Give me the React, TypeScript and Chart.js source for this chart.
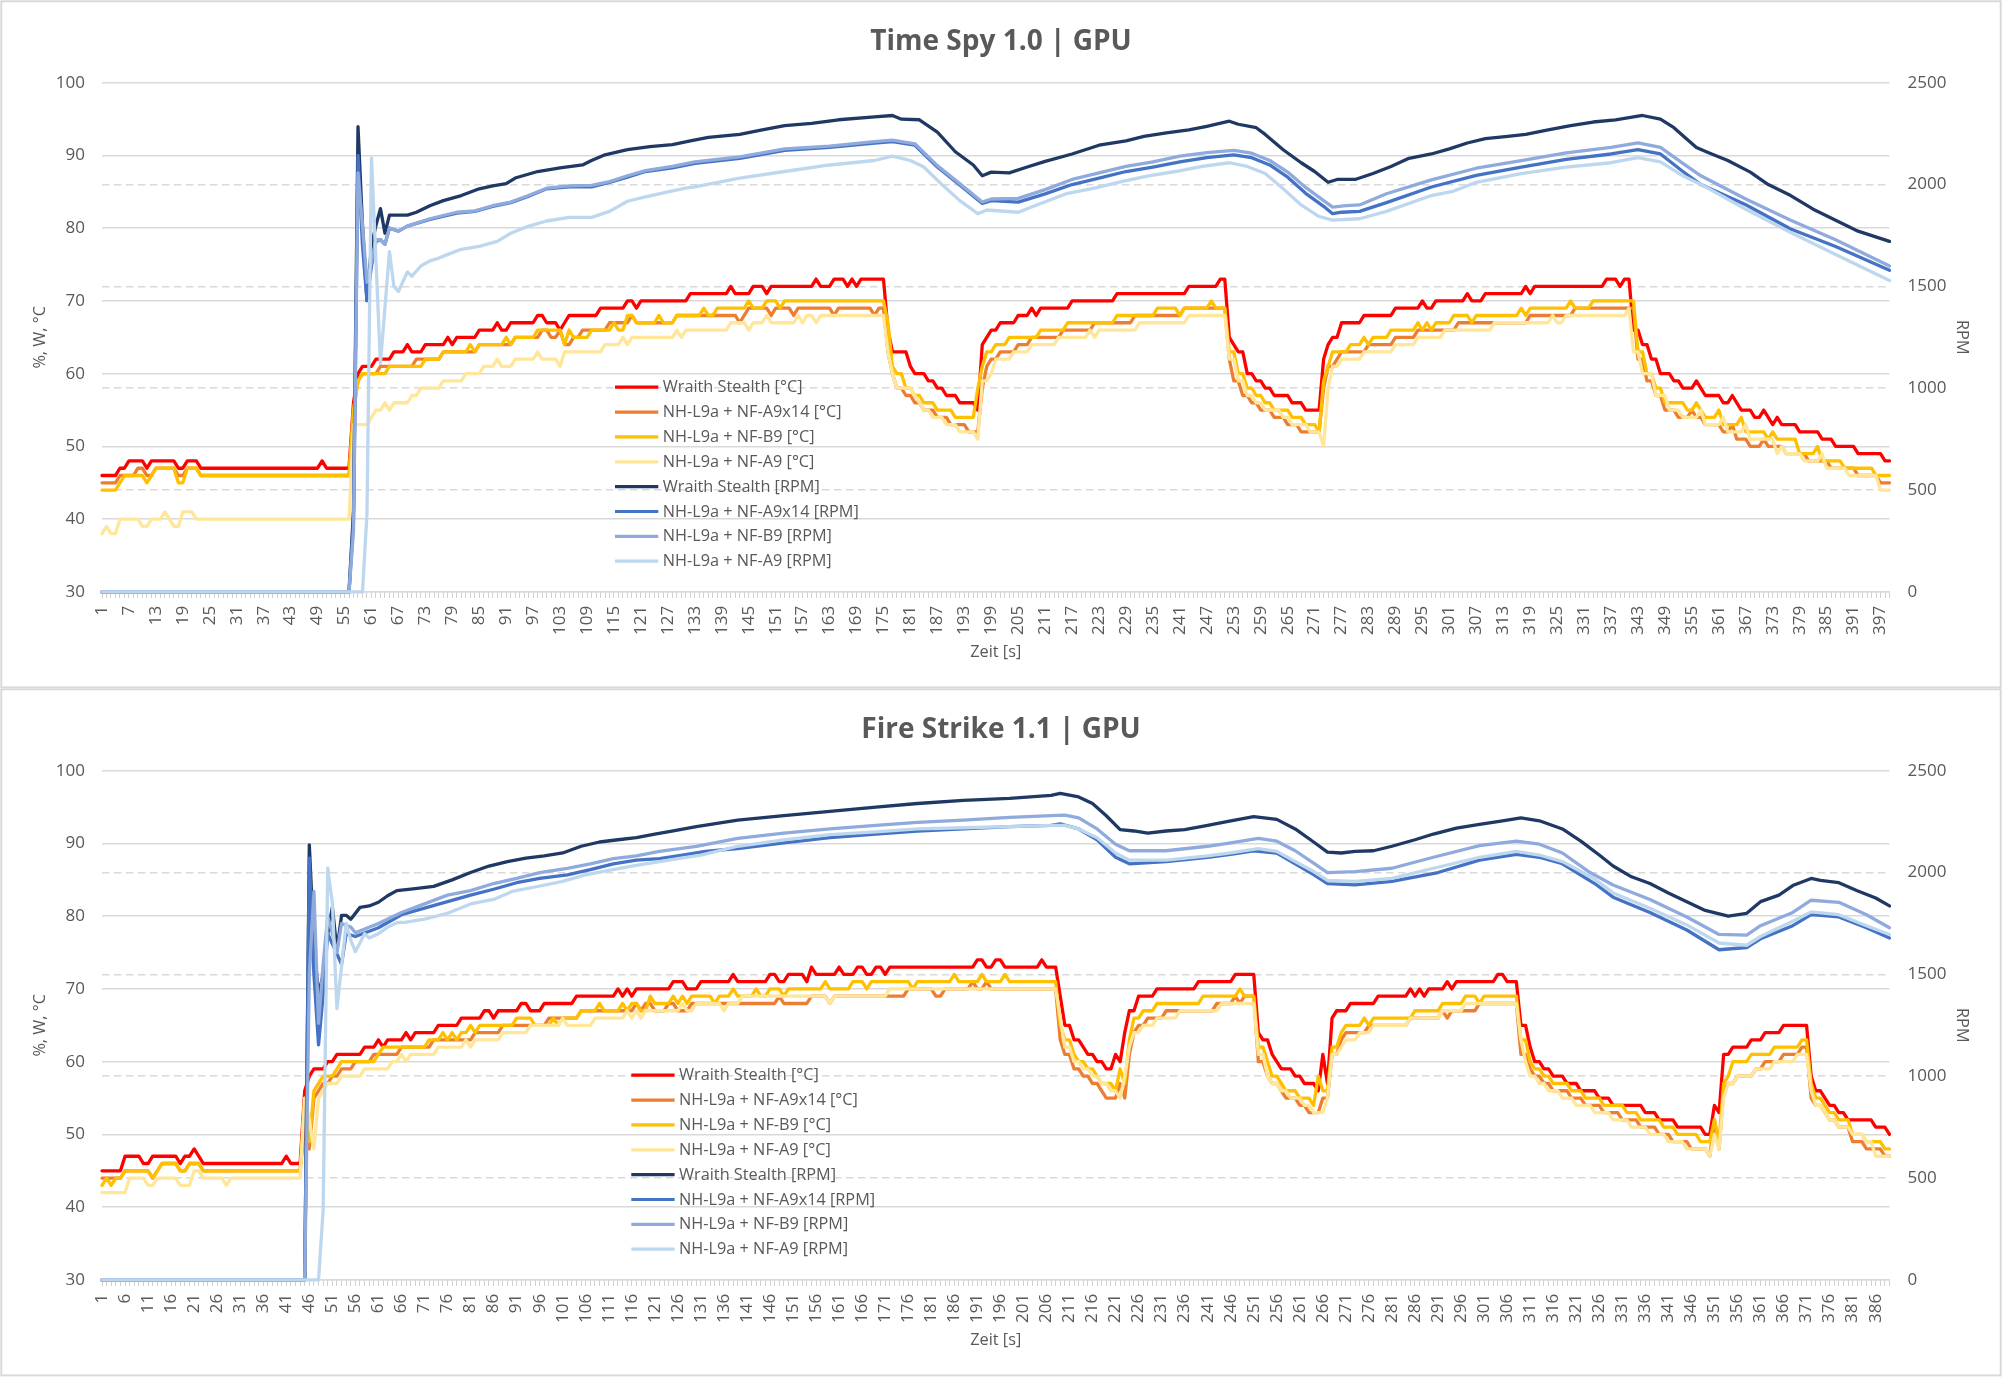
import React, { useEffect, useRef } from 'react';
import { Chart, registerables } from 'chart.js';

Chart.register(...registerables);

const FONT = '"Open Sans", "Noto Sans", "DejaVu Sans", sans-serif';
const TEXT = '#595959';
const GRID = '#d9d9d9';

const seriesNames = [
  'Wraith Stealth [°C]',
  'NH-L9a + NF-A9x14 [°C]',
  'NH-L9a + NF-B9 [°C]',
  'NH-L9a + NF-A9 [°C]',
  'Wraith Stealth [RPM]',
  'NH-L9a + NF-A9x14 [RPM]',
  'NH-L9a + NF-B9 [RPM]',
  'NH-L9a + NF-A9 [RPM]',
];
const seriesColors = ['#FF0000', '#ED7D31', '#FFC000', '#FFE699', '#203864', '#4472C4', '#8FAADC', '#BDD7EE'];

// ---------------- Time Spy 1.0 | GPU ----------------
const tsTitle = 'Time Spy 1.0 | GPU';
const tsSeconds = 399;
const tsLabelStep = 6;
// temperatures: [first second of plateau, °C]
const tsWraithTemp = [[1,46],[5,47],[7,48],[11,47],[12,48],[18,47],[20,48],[23,47],[50,48],[51,47],[57,56],[58,60],[59,61],[62,62],[66,63],[69,64],[70,63],[73,64],[78,65],[79,64],[80,65],[85,66],[89,67],[90,66],[92,67],[98,68],[100,67],[103,66],[104,67],[105,68],[112,69],[118,70],[120,69],[121,70],[132,71],[141,72],[142,71],[146,72],[149,71],[150,72],[160,73],[161,72],[164,73],[167,72],[168,73],[169,72],[170,73],[176,66],[177,63],[181,61],[182,60],[185,59],[187,58],[189,57],[192,56],[196,55],[197,64],[198,65],[199,66],[201,67],[205,68],[208,69],[209,68],[210,69],[217,70],[227,71],[243,72],[250,73],[252,65],[253,64],[254,63],[256,60],[258,59],[260,58],[262,57],[266,56],[269,55],[273,62],[274,64],[275,65],[277,67],[282,68],[289,69],[295,70],[296,69],[298,70],[305,71],[306,70],[309,71],[318,72],[319,71],[320,72],[336,73],[339,72],[340,73],[342,66],[344,64],[346,62],[348,60],[351,59],[353,58],[356,59],[357,58],[358,57],[362,56],[364,57],[365,56],[366,55],[369,54],[371,55],[372,54],[373,53],[374,54],[375,53],[379,52],[384,51],[387,50],[392,49],[398,48]];
const tsA9x14Temp = [[1,45],[5,46],[9,47],[11,46],[13,47],[18,46],[20,47],[23,46],[57,55],[58,59],[59,60],[63,61],[71,62],[77,63],[85,64],[93,65],[99,66],[101,65],[103,66],[104,64],[106,65],[108,66],[114,67],[119,68],[120,67],[129,68],[143,67],[144,68],[145,69],[150,68],[151,69],[155,68],[156,69],[164,68],[165,69],[173,68],[174,69],[176,63],[177,60],[178,58],[180,57],[182,56],[184,55],[187,54],[190,53],[194,52],[197,58],[198,61],[199,62],[201,63],[205,64],[208,65],[215,66],[222,67],[231,68],[242,69],[252,62],[253,59],[255,57],[257,56],[259,55],[262,54],[265,53],[268,52],[273,58],[274,61],[276,62],[277,63],[283,64],[289,65],[294,66],[303,67],[319,68],[329,69],[343,62],[345,59],[347,57],[349,55],[352,54],[355,55],[356,54],[358,53],[362,52],[364,53],[365,51],[368,50],[371,51],[372,50],[376,49],[381,48],[386,47],[392,46],[397,45]];
const tsB9Temp = [[1,44],[5,45],[6,46],[11,45],[12,46],[13,47],[18,45],[20,47],[23,46],[57,55],[58,59],[59,60],[65,61],[73,62],[77,63],[83,64],[84,63],[85,64],[91,65],[92,64],[93,65],[98,66],[104,64],[105,66],[106,65],[110,66],[115,67],[116,66],[118,68],[120,67],[125,68],[126,67],[129,68],[135,69],[136,68],[138,69],[145,70],[146,69],[149,70],[152,69],[153,70],[176,67],[177,61],[178,60],[180,58],[182,57],[184,56],[187,55],[191,54],[196,58],[197,61],[198,63],[200,64],[203,65],[210,66],[216,67],[227,68],[236,69],[241,68],[242,69],[248,70],[249,69],[252,63],[254,60],[256,58],[258,57],[260,56],[262,55],[266,54],[269,53],[272,52],[273,59],[274,61],[275,63],[279,64],[282,65],[283,64],[284,65],[288,66],[294,67],[295,66],[296,67],[297,66],[298,67],[302,68],[306,67],[307,68],[317,69],[318,68],[319,69],[328,70],[329,69],[333,70],[343,63],[345,60],[347,58],[349,56],[354,55],[356,56],[357,55],[358,54],[361,55],[362,53],[366,54],[367,52],[372,51],[373,52],[374,51],[379,49],[383,50],[384,48],[389,47],[396,46]];
const tsA9Temp = [[1,38],[2,39],[3,38],[5,40],[10,39],[12,40],[15,41],[16,40],[17,39],[19,41],[22,40],[57,53],[61,54],[62,55],[64,56],[65,55],[66,56],[70,57],[72,58],[77,59],[82,60],[86,61],[89,62],[90,61],[93,62],[98,63],[99,62],[103,61],[104,63],[113,64],[117,65],[118,64],[119,65],[129,66],[130,65],[131,66],[141,67],[145,66],[146,67],[149,68],[150,67],[156,68],[157,67],[158,68],[160,67],[161,68],[176,63],[177,60],[178,58],[182,57],[183,56],[184,55],[186,54],[189,53],[192,52],[196,51],[197,59],[199,60],[200,62],[204,63],[208,64],[214,65],[221,66],[222,65],[223,66],[232,67],[243,68],[252,62],[254,59],[256,57],[258,56],[260,55],[264,54],[266,53],[270,52],[273,50],[274,58],[275,61],[277,62],[282,63],[289,64],[294,65],[300,66],[311,67],[324,68],[325,67],[327,68],[341,69],[342,63],[344,60],[347,57],[350,55],[353,54],[357,55],[358,53],[362,54],[363,52],[367,53],[368,51],[374,49],[375,50],[376,49],[380,48],[384,49],[385,47],[390,46],[397,44]];
// fan speeds: [second, RPM]
const tsWraithRpm = [[1,0],[56,0],[57,400],[58,2284],[59,1800],[60,1430],[61,1700],[62,1800],[63,1882],[64,1761],[65,1850],[69,1850],[71,1864],[74,1896],[77,1921],[81,1946],[85,1979],[88,1993],[91,2004],[93,2032],[98,2064],[103,2082],[108,2096],[110,2118],[113,2146],[118,2171],[123,2186],[128,2196],[132,2214],[136,2232],[143,2246],[148,2268],[153,2289],[159,2300],[165,2318],[173,2332],[177,2339],[179,2321],[183,2318],[187,2257],[191,2161],[195,2096],[197,2043],[199,2061],[203,2057],[207,2086],[211,2114],[217,2150],[223,2193],[229,2214],[233,2236],[238,2254],[243,2268],[247,2286],[252,2311],[254,2296],[258,2279],[260,2246],[264,2171],[268,2107],[271,2064],[274,2011],[276,2025],[280,2025],[284,2054],[288,2089],[292,2129],[297,2150],[301,2175],[305,2204],[309,2225],[314,2236],[318,2246],[323,2268],[328,2289],[333,2307],[338,2318],[344,2339],[348,2321],[351,2279],[356,2182],[359,2154],[363,2118],[368,2061],[372,2000],[377,1946],[382,1879],[387,1825],[392,1771],[399,1721]];
const tsA9x14Rpm = [[1,0],[56,0],[57,350],[58,2143],[59,1700],[60,1430],[61,1600],[62,1720],[63,1729],[64,1707],[65,1786],[67,1771],[69,1796],[74,1829],[80,1860],[84,1868],[88,1893],[92,1911],[96,1943],[100,1979],[105,1989],[110,1989],[114,2011],[118,2036],[122,2064],[128,2082],[133,2104],[143,2129],[153,2168],[163,2182],[173,2204],[177,2211],[182,2193],[187,2086],[193,1979],[197,1907],[199,1921],[205,1914],[211,1954],[217,2000],[223,2032],[229,2064],[235,2086],[241,2111],[247,2132],[253,2146],[257,2132],[261,2096],[265,2036],[269,1957],[273,1893],[275,1857],[277,1864],[281,1868],[287,1911],[297,1988],[307,2045],[317,2086],[327,2124],[337,2150],[343,2171],[348,2150],[353,2064],[357,2000],[367,1901],[377,1782],[387,1696],[399,1579]];
const tsB9Rpm = [[1,0],[56,0],[57,300],[58,2057],[59,1800],[60,1520],[61,1620],[62,1730],[63,1729],[64,1707],[65,1786],[67,1771],[69,1796],[74,1832],[80,1864],[84,1871],[88,1896],[92,1914],[96,1946],[100,1982],[105,1993],[110,1996],[114,2014],[118,2043],[122,2068],[128,2089],[133,2111],[143,2136],[153,2175],[163,2189],[173,2211],[177,2218],[182,2200],[187,2093],[193,1986],[197,1914],[199,1929],[205,1932],[211,1975],[217,2025],[223,2057],[229,2089],[235,2111],[241,2139],[247,2157],[253,2168],[257,2154],[261,2118],[265,2061],[269,1986],[273,1921],[275,1889],[278,1896],[281,1900],[287,1955],[297,2023],[307,2080],[317,2118],[327,2156],[337,2182],[343,2204],[348,2182],[353,2104],[357,2043],[367,1929],[377,1825],[387,1729],[399,1600]];
const tsA9Rpm = [[1,0],[59,0],[60,386],[61,2129],[63,1121],[65,1671],[66,1500],[67,1475],[69,1571],[70,1550],[72,1600],[74,1625],[76,1639],[78,1657],[81,1682],[85,1696],[89,1721],[92,1761],[96,1796],[100,1821],[105,1839],[110,1839],[114,1868],[118,1918],[122,1939],[127,1964],[131,1982],[133,1989],[143,2032],[153,2064],[163,2096],[173,2118],[177,2139],[181,2118],[184,2086],[188,2000],[192,1921],[196,1857],[198,1875],[205,1864],[210,1907],[216,1957],[222,1982],[228,2014],[234,2043],[240,2064],[246,2089],[252,2107],[256,2089],[260,2054],[264,1979],[268,1900],[272,1843],[275,1825],[281,1832],[287,1868],[297,1946],[302,1968],[307,2011],[317,2054],[327,2086],[337,2107],[343,2132],[348,2111],[353,2043],[358,1989],[367,1879],[377,1764],[387,1657],[399,1529]];

// ---------------- Fire Strike 1.1 | GPU ----------------
const fsTitle = 'Fire Strike 1.1 | GPU';
const fsSeconds = 389;
const fsLabelStep = 5;
const fsWraithTemp = [[1,45],[6,47],[10,46],[12,47],[18,46],[19,47],[21,48],[22,47],[23,46],[41,47],[42,46],[45,56],[46,58],[47,59],[50,60],[52,61],[58,62],[61,63],[62,62],[63,63],[67,64],[68,63],[69,64],[74,65],[79,66],[84,67],[86,66],[87,67],[92,68],[94,67],[97,68],[104,69],[113,70],[114,69],[115,70],[116,69],[117,70],[125,71],[128,70],[131,71],[138,72],[139,71],[146,72],[148,71],[150,72],[154,71],[155,73],[156,72],[161,73],[162,72],[165,73],[167,72],[169,73],[171,72],[172,73],[191,74],[193,73],[195,74],[197,73],[205,74],[206,73],[209,69],[210,65],[212,63],[214,62],[215,61],[217,60],[219,59],[221,61],[222,60],[223,64],[224,67],[226,69],[230,70],[239,71],[247,72],[252,64],[253,63],[255,61],[256,60],[257,59],[260,58],[262,57],[265,56],[266,61],[267,57],[268,66],[269,67],[272,68],[278,69],[285,70],[286,69],[287,70],[288,69],[289,70],[293,71],[294,70],[295,71],[304,72],[306,71],[309,65],[311,62],[312,60],[314,59],[316,58],[319,57],[322,56],[326,55],[329,54],[336,53],[339,52],[343,51],[349,50],[351,54],[352,53],[353,61],[355,62],[359,63],[362,64],[366,65],[372,58],[373,56],[375,55],[376,54],[378,53],[380,52],[386,51],[389,50]];
const fsA9x14Temp = [[1,44],[6,45],[12,44],[13,45],[14,46],[18,45],[20,46],[23,45],[45,51],[46,48],[47,55],[48,56],[49,57],[51,58],[53,59],[56,60],[60,61],[66,62],[73,63],[82,64],[88,65],[98,66],[105,67],[117,68],[118,67],[119,68],[121,67],[124,68],[126,67],[129,68],[148,69],[149,68],[155,69],[159,68],[160,69],[176,70],[182,69],[184,70],[190,71],[191,70],[193,71],[194,70],[209,63],[210,61],[212,59],[214,58],[216,57],[218,56],[219,55],[222,57],[223,55],[224,61],[225,64],[226,65],[228,66],[232,67],[243,68],[247,69],[248,68],[249,69],[252,60],[254,58],[255,57],[257,56],[258,55],[261,54],[263,53],[266,55],[268,61],[270,63],[271,64],[276,65],[285,66],[292,67],[293,66],[294,67],[300,68],[309,61],[311,59],[312,58],[314,57],[316,56],[320,55],[323,54],[327,53],[331,52],[335,51],[339,50],[342,49],[346,48],[350,47],[351,52],[352,48],[353,56],[354,57],[356,58],[360,59],[362,60],[366,61],[370,62],[372,55],[373,54],[375,53],[376,52],[378,51],[381,49],[384,48],[388,47]];
const fsB9Temp = [[1,43],[2,44],[3,43],[4,44],[6,45],[12,44],[13,45],[14,46],[18,45],[20,46],[23,45],[45,55],[46,49],[47,56],[48,57],[49,58],[52,59],[53,60],[61,61],[62,62],[72,63],[75,64],[76,63],[77,64],[78,63],[79,64],[81,65],[82,64],[83,65],[91,66],[95,65],[99,66],[100,65],[101,66],[105,67],[109,68],[110,67],[114,68],[115,67],[116,68],[118,67],[120,69],[121,68],[125,69],[126,68],[127,69],[128,68],[129,69],[134,68],[135,69],[138,70],[139,69],[143,70],[144,69],[146,70],[149,69],[150,70],[158,71],[159,70],[164,71],[167,70],[168,71],[177,70],[178,71],[186,72],[187,71],[192,72],[193,71],[197,72],[198,71],[209,65],[210,63],[212,61],[213,60],[215,59],[217,58],[218,57],[221,56],[222,59],[223,57],[224,63],[225,66],[227,67],[230,68],[240,69],[248,70],[249,69],[252,62],[254,60],[255,58],[257,57],[258,56],[261,55],[264,54],[265,58],[266,56],[268,62],[270,64],[271,65],[275,66],[276,65],[277,66],[286,67],[292,68],[297,69],[300,68],[301,69],[309,63],[311,60],[312,59],[314,58],[316,57],[320,56],[323,55],[327,54],[332,53],[335,52],[340,51],[343,50],[348,49],[351,52],[352,49],[353,57],[354,58],[355,60],[359,61],[364,62],[370,63],[372,57],[373,55],[375,54],[376,53],[378,52],[381,50],[384,49],[388,48]];
const fsA9Temp = [[1,42],[7,44],[11,43],[13,44],[18,43],[21,45],[23,44],[28,43],[29,44],[45,55],[46,52],[47,48],[48,55],[49,56],[50,57],[53,58],[58,59],[64,60],[66,61],[67,60],[68,61],[74,62],[80,63],[81,62],[82,63],[88,64],[94,65],[101,66],[102,65],[108,66],[115,67],[116,66],[117,67],[118,66],[119,67],[127,68],[128,67],[130,68],[136,67],[137,68],[140,69],[159,68],[160,69],[172,70],[209,66],[210,62],[212,60],[214,59],[216,58],[218,57],[220,56],[222,55],[223,58],[224,62],[225,64],[227,65],[230,66],[235,67],[244,68],[252,61],[254,58],[255,57],[257,56],[259,55],[262,54],[264,53],[267,55],[268,61],[270,62],[271,63],[274,64],[277,65],[285,66],[292,67],[297,68],[309,63],[310,60],[311,58],[313,57],[315,56],[318,55],[321,54],[325,53],[329,52],[333,51],[337,50],[341,49],[345,48],[350,47],[351,50],[352,48],[353,55],[354,57],[356,58],[360,59],[364,60],[369,61],[372,56],[373,54],[375,53],[376,52],[378,51],[381,50],[384,49],[386,47]];
const fsWraithRpm = [[1,0],[45,0],[46,2136],[47,1650],[48,1400],[49,1500],[50,1700],[51,1830],[52,1620],[53,1790],[54,1790],[55,1771],[57,1829],[59,1836],[61,1854],[63,1886],[65,1911],[69,1921],[73,1932],[77,1964],[81,2000],[85,2032],[89,2054],[93,2071],[97,2082],[101,2096],[105,2129],[109,2150],[113,2161],[117,2171],[121,2189],[125,2204],[130,2225],[139,2257],[149,2279],[159,2300],[169,2321],[178,2339],[188,2354],[198,2364],[207,2379],[209,2389],[213,2371],[216,2339],[219,2279],[222,2211],[225,2204],[228,2193],[232,2204],[236,2211],[241,2232],[246,2254],[251,2275],[256,2261],[260,2214],[264,2150],[267,2100],[270,2096],[273,2104],[277,2107],[281,2129],[286,2161],[290,2189],[295,2218],[300,2236],[305,2254],[309,2268],[313,2254],[318,2214],[322,2154],[326,2086],[329,2032],[333,1979],[337,1946],[341,1900],[345,1857],[349,1814],[354,1786],[358,1800],[361,1857],[365,1889],[368,1936],[372,1971],[374,1961],[378,1950],[382,1911],[386,1875],[389,1836]];
const fsA9x14Rpm = [[1,0],[45,0],[46,2071],[47,1500],[48,1154],[49,1400],[50,1700],[51,1650],[52,1600],[53,1550],[54,1700],[56,1686],[61,1729],[66,1793],[71,1825],[76,1857],[81,1889],[86,1918],[91,1950],[96,1971],[102,1989],[107,2014],[112,2043],[117,2061],[122,2068],[127,2086],[132,2104],[139,2118],[149,2146],[159,2171],[169,2189],[178,2204],[188,2214],[198,2225],[207,2232],[209,2239],[213,2214],[217,2161],[221,2075],[224,2043],[232,2054],[241,2075],[246,2089],[251,2107],[256,2096],[260,2043],[264,1990],[267,1946],[273,1939],[281,1957],[291,2000],[300,2061],[308,2089],[313,2075],[318,2043],[325,1946],[329,1879],[337,1804],[345,1718],[352,1621],[358,1632],[361,1675],[368,1739],[372,1793],[378,1782],[384,1729],[389,1679]];
const fsB9Rpm = [[1,0],[45,0],[46,1500],[47,1907],[48,1260],[49,1550],[50,1786],[51,1700],[52,1607],[53,1750],[55,1732],[56,1704],[61,1750],[66,1804],[71,1846],[76,1889],[81,1911],[86,1946],[91,1971],[96,2000],[102,2021],[107,2043],[112,2068],[117,2082],[122,2104],[130,2129],[139,2168],[149,2193],[159,2214],[169,2232],[178,2246],[188,2257],[198,2271],[207,2279],[210,2282],[213,2268],[217,2214],[221,2139],[224,2107],[232,2107],[241,2129],[246,2146],[252,2168],[256,2154],[260,2107],[264,2046],[267,2000],[273,2004],[281,2021],[290,2075],[300,2132],[308,2154],[313,2139],[318,2096],[324,2000],[329,1939],[337,1868],[345,1782],[352,1696],[358,1693],[361,1739],[368,1804],[372,1864],[378,1854],[384,1793],[389,1729]];
const fsA9Rpm = [[1,0],[48,0],[49,343],[50,2021],[51,1850],[52,1332],[54,1750],[55,1668],[56,1611],[58,1700],[59,1679],[61,1700],[63,1732],[65,1754],[67,1757],[71,1771],[76,1800],[81,1846],[86,1868],[90,1907],[95,1929],[101,1957],[106,1989],[111,2011],[116,2032],[121,2050],[126,2068],[131,2086],[139,2129],[149,2160],[159,2186],[169,2200],[178,2214],[188,2220],[198,2225],[207,2232],[210,2232],[213,2214],[217,2171],[221,2096],[224,2061],[232,2061],[241,2082],[246,2096],[252,2118],[256,2104],[260,2054],[264,2005],[267,1961],[273,1957],[281,1971],[290,2021],[300,2075],[308,2104],[313,2086],[318,2054],[325,1968],[329,1900],[337,1825],[345,1743],[352,1654],[358,1643],[361,1686],[368,1761],[372,1807],[378,1793],[384,1739],[389,1696]];

type Pair = number[];

function plateauPoints(runs: Pair[], last: number) {
  const pts: { x: number; y: number }[] = [];
  for (let k = 0; k < runs.length; k++) {
    const [s, v] = runs[k];
    const e = k + 1 < runs.length ? runs[k + 1][0] - 1 : last;
    pts.push({ x: s, y: v });
    if (e > s) pts.push({ x: e, y: v });
  }
  return pts;
}
function pairPoints(pairs: Pair[]) {
  return pairs.map(([x, y]) => ({ x, y }));
}

interface PanelSpec {
  title: string;
  seconds: number;
  labelStep: number;
  temps: Pair[][];
  rpms: Pair[][];
  legendX: number;
  height: number;
  xAxisHeight: number;
  xTitlePad: number;
}

const panels: PanelSpec[] = [
  { title: tsTitle, seconds: tsSeconds, labelStep: tsLabelStep, temps: [tsWraithTemp, tsA9x14Temp, tsB9Temp, tsA9Temp], rpms: [tsWraithRpm, tsA9x14Rpm, tsB9Rpm, tsA9Rpm], legendX: 615, height: 688, xAxisHeight: 96.1, xTitlePad: 26 },
  { title: fsTitle, seconds: fsSeconds, labelStep: fsLabelStep, temps: [fsWraithTemp, fsA9x14Temp, fsB9Temp, fsA9Temp], rpms: [fsWraithRpm, fsA9x14Rpm, fsB9Rpm, fsA9Rpm], legendX: 631.3, height: 690, xAxisHeight: 98.1, xTitlePad: 28 },
];

const panelPlugin = {
  id: 'panelFrame',
  beforeDraw(chart: any) {
    const { ctx, width } = chart;
    ctx.save();
    ctx.fillStyle = '#ffffff';
    ctx.fillRect(0, 0, width, chart.height);
    ctx.strokeStyle = GRID;
    ctx.lineWidth = 2;
    ctx.strokeRect(1.3, 1.3, width - 2.6, 686.1);
    ctx.restore();
  },
};

function legendPlugin(x0: number) {
  return {
    id: 'sideLegend',
    afterDraw(chart: any) {
      const ctx = chart.ctx;
      ctx.save();
      ctx.font = `16.3px ${FONT}`;
      ctx.textBaseline = 'middle';
      ctx.textAlign = 'left';
      seriesNames.forEach((name, i) => {
        const y = chart.chartArea.top + 304.5 + i * 24.86;
        ctx.strokeStyle = seriesColors[i];
        ctx.lineWidth = 3.2;
        ctx.lineCap = 'butt';
        ctx.beginPath();
        ctx.moveTo(x0, y);
        ctx.lineTo(x0 + 43.3, y);
        ctx.stroke();
        ctx.fillStyle = TEXT;
        ctx.fillText(name, x0 + 47.7, y + 0.5);
      });
      ctx.restore();
    },
  };
}

function buildConfig(p: PanelSpec): any {
  const labels = Array.from({ length: p.seconds }, (_, i) => i + 1);
  const datasets: any[] = [];
  p.temps.forEach((runs, i) => {
    datasets.push({
      label: seriesNames[i],
      data: plateauPoints(runs, p.seconds),
      borderColor: seriesColors[i],
      yAxisID: 'y',
      order: 8 - i,
    });
  });
  p.rpms.forEach((pairs, j) => {
    const i = j + 4;
    datasets.push({
      label: seriesNames[i],
      data: pairPoints(pairs),
      borderColor: seriesColors[i],
      yAxisID: 'y1',
      order: 8 - i,
    });
  });
  datasets.forEach((d) => {
    d.borderWidth = 3.3;
    d.pointRadius = 0;
    d.pointHoverRadius = 0;
    d.tension = 0;
    d.fill = false;
    d.borderJoinStyle = 'round';
    d.borderCapStyle = 'round';
    d.clip = 6;
  });
  const tickFont = { family: FONT, size: 17 };
  const titleFont = { family: FONT, size: 16.3 };
  return {
    type: 'line',
    data: { labels, datasets },
    options: {
      responsive: false,
      animation: false,
      devicePixelRatio: 1,
      events: [],
      layout: { padding: 0 },
      plugins: {
        legend: { display: false },
        tooltip: { enabled: false },
        title: {
          display: true,
          text: p.title,
          color: TEXT,
          font: { family: FONT, size: 28, weight: 'bold' },
          padding: { top: 25.3, bottom: 23.8 },
        },
      },
      scales: {
        x: {
          type: 'category',
          offset: false,
          grid: { display: true, drawOnChartArea: false, drawTicks: true, tickLength: 6, color: '#cfcfcf', lineWidth: 1, offset: false },
          border: { display: true, color: GRID, width: 1.5 },
          ticks: {
            autoSkip: false,
            minRotation: 90,
            maxRotation: 90,
            padding: 8,
            color: TEXT,
            font: tickFont,
            callback: (_v: any, index: number) => (index % p.labelStep === 0 ? String(labels[index]) : ''),
          },
          title: { display: true, text: 'Zeit [s]', color: TEXT, font: titleFont, padding: { top: 0, bottom: p.xTitlePad } },
          afterFit: (s: any) => { s.height = p.xAxisHeight; },
        },
        y: {
          type: 'linear',
          position: 'left',
          min: 30,
          max: 100,
          ticks: { stepSize: 10, padding: 17, color: TEXT, font: tickFont, callback: (v: any) => String(v) },
          grid: { color: GRID, lineWidth: 1.5, drawTicks: false },
          border: { display: false },
          title: { display: true, text: '%, W, °C', color: TEXT, font: titleFont, padding: { top: 30.4, bottom: 0 } },
          afterFit: (s: any) => { s.width = 102; },
        },
        y1: {
          type: 'linear',
          position: 'right',
          min: 0,
          max: 2500,
          ticks: { stepSize: 500, padding: 18, color: TEXT, font: tickFont, callback: (v: any) => String(v) },
          grid: {
            drawOnChartArea: true,
            drawTicks: false,
            lineWidth: 1.5,
            color: (c: any) => (c.tick && (c.tick.value === 0 || c.tick.value === 2500) ? 'rgba(0,0,0,0)' : GRID),
          },
          border: { display: false, dash: [7.5, 4.5] },
          title: { display: true, text: 'RPM', color: TEXT, font: titleFont, padding: { top: 30.5, bottom: 0 } },
          afterFit: (s: any) => { s.width = 112.5; },
        },
      },
    },
    plugins: [panelPlugin, legendPlugin(p.legendX)],
  };
}

function ChartPanel({ spec }: { spec: PanelSpec }) {
  const ref = useRef<HTMLCanvasElement | null>(null);
  useEffect(() => {
    if (!ref.current) return;
    const chart = new Chart(ref.current, buildConfig(spec));
    return () => chart.destroy();
  }, [spec]);
  return (
    <canvas
      ref={ref}
      width={2002}
      height={spec.height}
      style={{ display: 'block', width: 2002, height: spec.height }}
    />
  );
}

export default function App() {
  return (
    <div style={{ position: 'absolute', left: 0, top: 0, width: 2002, height: 1378, background: '#ffffff' }}>
      {panels.map((p) => (
        <ChartPanel key={p.title} spec={p} />
      ))}
    </div>
  );
}
